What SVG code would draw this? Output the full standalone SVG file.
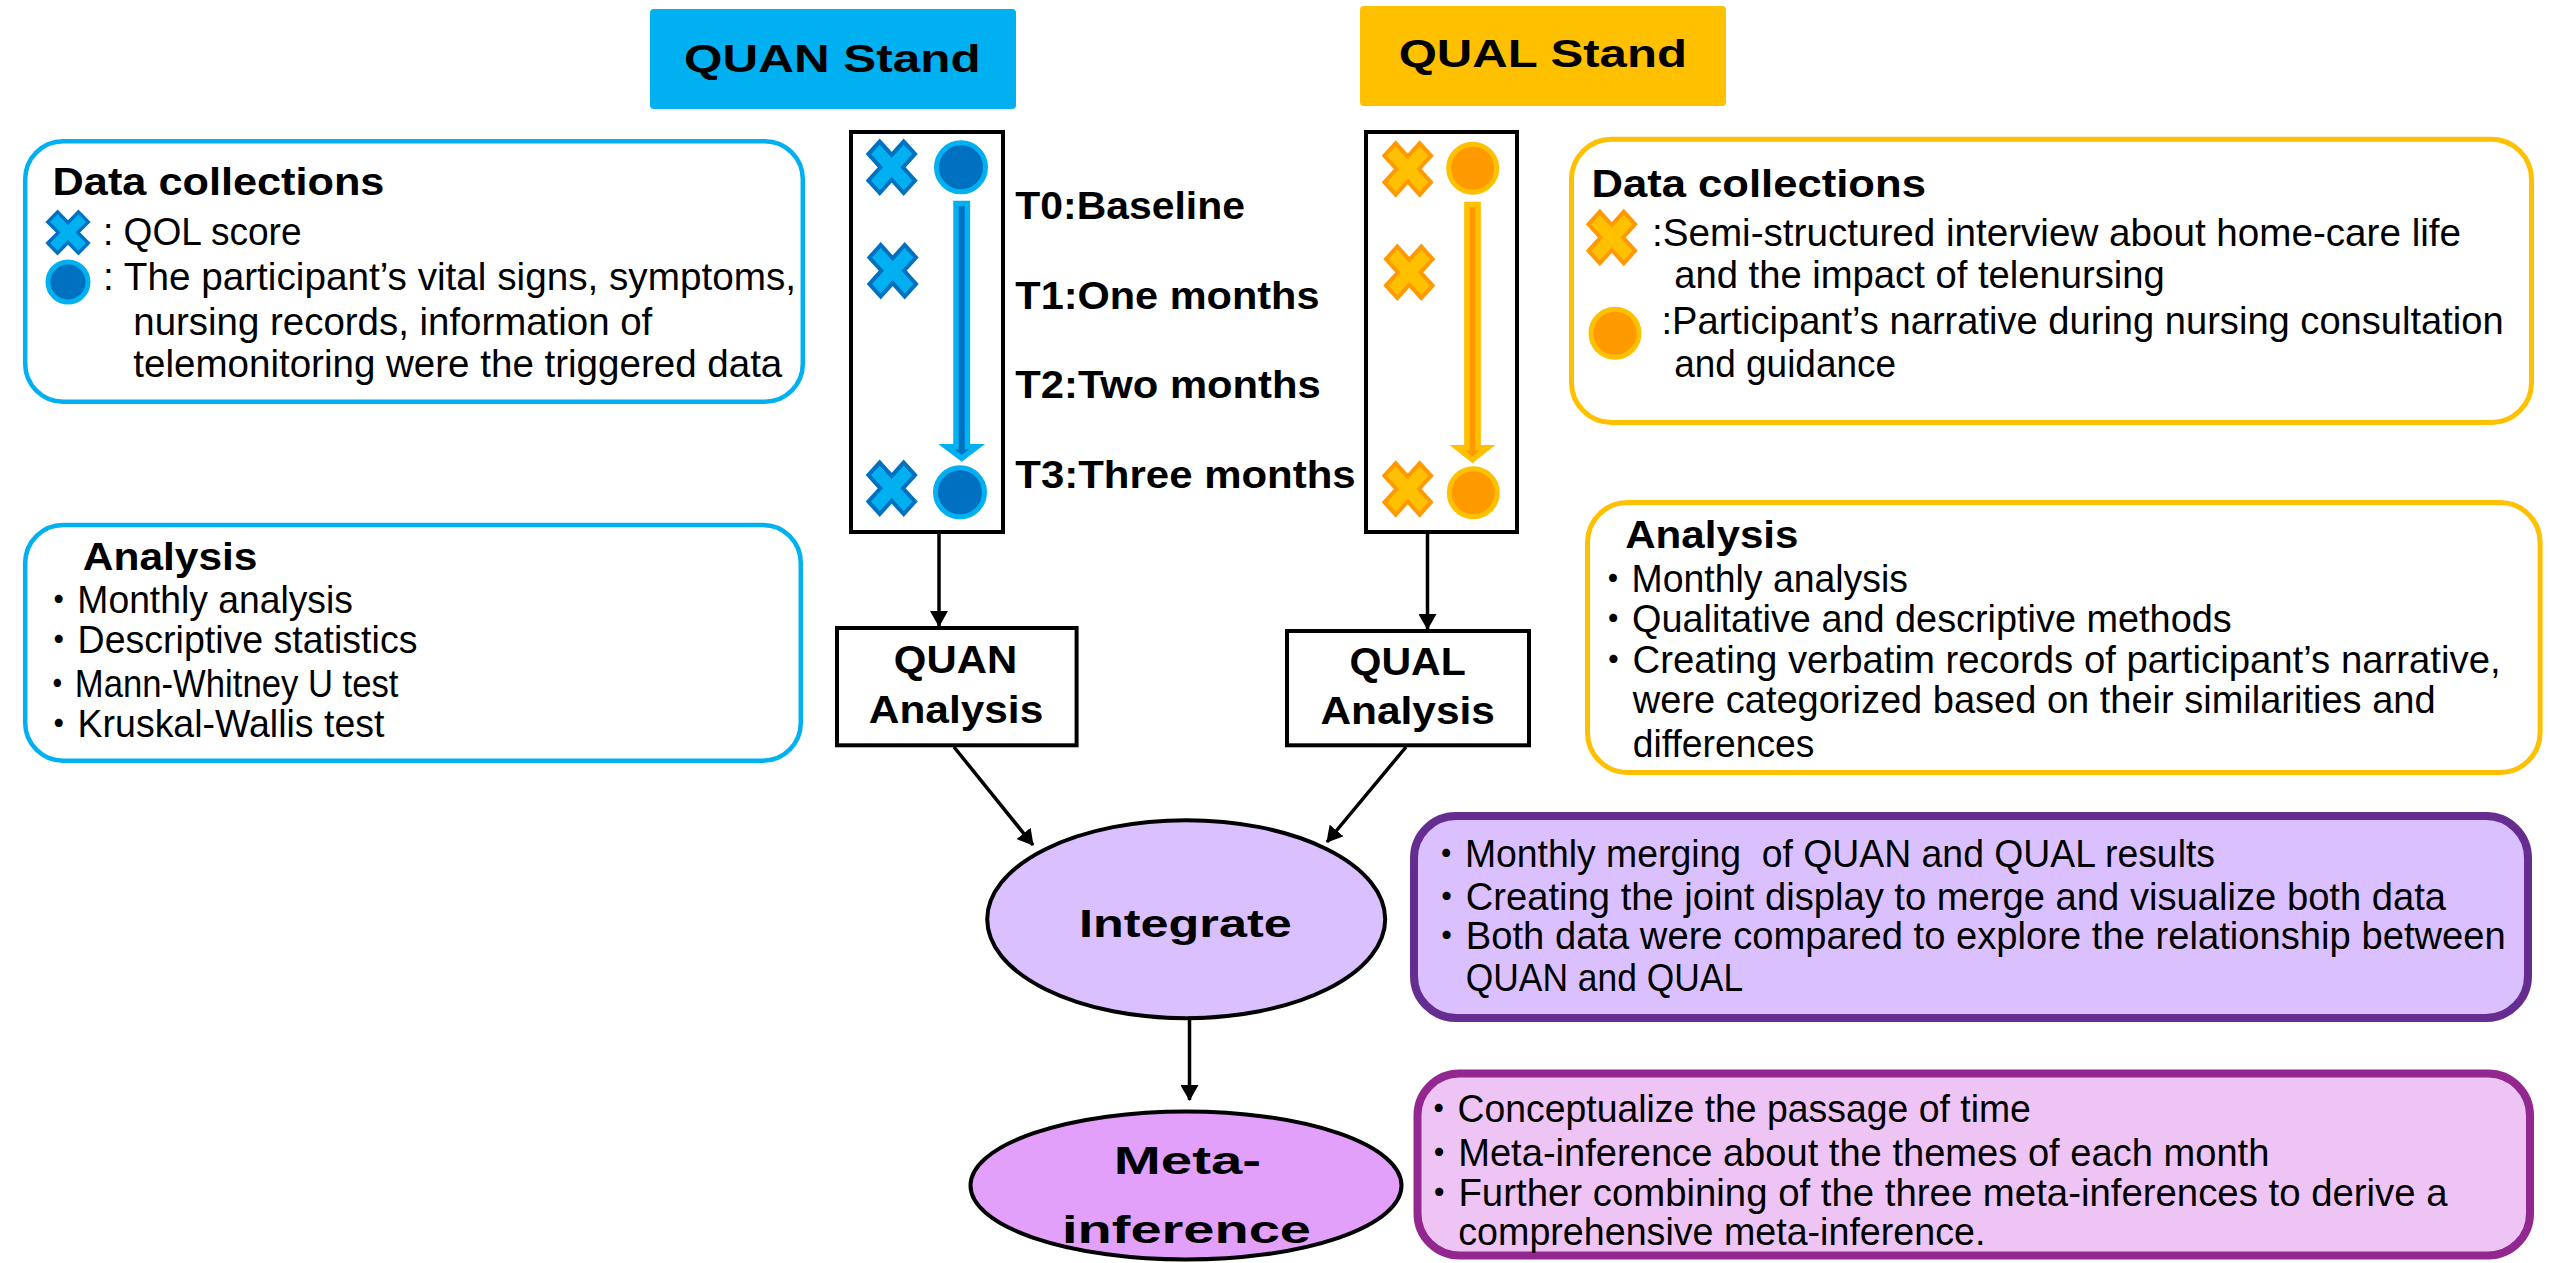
<svg xmlns="http://www.w3.org/2000/svg" xmlns:xlink="http://www.w3.org/1999/xlink" width="2549" height="1263" viewBox="0 0 2549 1263">
<style>
.t{font-family:"Liberation Sans","Noto Sans CJK JP",sans-serif;font-size:39px;fill:#000}
.b{font-weight:bold}
.bq{fill:#fff;stroke:#00B0F0;stroke-width:4.5}
.bo{fill:#fff;stroke:#FFC000;stroke-width:5}
.tl{fill:#fff;stroke:#000;stroke-width:4}
.xb{fill:#00B0F0;stroke:#0070C0;stroke-width:4;stroke-linejoin:miter}
.xo{fill:#FFC000;stroke:#FF9900;stroke-width:4;stroke-linejoin:miter}
.cb{fill:#0070C0;stroke:#00B0F0;stroke-width:5}
.co{fill:#FF9900;stroke:#FFC000;stroke-width:5}
.conn{stroke:#000;stroke-width:3.5;fill:none;marker-end:url(#ah)}
</style>
<defs>
<marker id="ah" markerUnits="userSpaceOnUse" viewBox="0 0 16 18" markerWidth="16" markerHeight="18" refX="15" refY="9" orient="auto">
<path d="M0,0 L16,9 L0,18 Z" fill="#000"/>
</marker>
<path id="xshape" d="M-12,25.7 L-23.3,13.2 L-11.3,0 L-23.3,-13.2 L-12,-25.7 L0,-12.4 L12,-25.7 L23.3,-13.2 L11.3,0 L23.3,13.2 L12,25.7 L0,12.4 Z"/>
</defs>

<g id="quan-stand">
<rect x="650" y="9" width="366" height="100" rx="4" fill="#00B0F0"/>
<text class="t b" x="684" y="72" font-size="52" textLength="296.7" lengthAdjust="spacingAndGlyphs">QUAN Stand</text>
</g>

<g id="qual-stand">
<rect x="1360" y="6" width="366" height="100" rx="4" fill="#FFC000"/>
<text class="t b" x="1398.7" y="66.5" font-size="52" textLength="288.2" lengthAdjust="spacingAndGlyphs">QUAL Stand</text>
</g>

<g id="quan-data-collections">
<rect class="bq" x="25.2" y="141.2" width="777.6" height="260.6" rx="38"/>
<text class="t b" x="52.6" y="195" font-size="42" textLength="331.8" lengthAdjust="spacingAndGlyphs">Data collections</text>
<use href="#xshape" class="xb" transform="translate(68,232.5) scale(0.87,0.8)"/>
<text class="t" x="103" y="245" textLength="198.6" lengthAdjust="spacingAndGlyphs">: QOL score</text>
<circle class="cb" cx="68" cy="282" r="20"/>
<text class="t" x="103" y="290" textLength="693" lengthAdjust="spacingAndGlyphs">: The participant’s vital signs, symptoms,</text>
<text class="t" x="133.3" y="334.5" textLength="519" lengthAdjust="spacingAndGlyphs">nursing records, information of</text>
<text class="t" x="133.3" y="376.5" textLength="649" lengthAdjust="spacingAndGlyphs">telemonitoring were the triggered data</text>
</g>

<g id="quan-analysis-notes">
<rect class="bq" x="25.2" y="525" width="775.6" height="235.8" rx="38"/>
<text class="t b" x="82.8" y="570" font-size="42" textLength="174.7" lengthAdjust="spacingAndGlyphs">Analysis</text>
<text class="t" x="40.1" y="613.3" textLength="312.8" lengthAdjust="spacingAndGlyphs">・Monthly analysis</text>
<text class="t" x="40.1" y="653.3" textLength="377.3" lengthAdjust="spacingAndGlyphs">・Descriptive statistics</text>
<text class="t" x="40.1" y="696.7" font-size="37" textLength="358.4" lengthAdjust="spacingAndGlyphs">・Mann-Whitney U test</text>
<text class="t" x="40.1" y="736.7" textLength="344.3" lengthAdjust="spacingAndGlyphs">・Kruskal-Wallis test</text>
</g>

<g id="quan-timeline">
<rect class="tl" x="851" y="132" width="152" height="400"/>
<use href="#xshape" class="xb" transform="translate(891.7,167.3)"/>
<circle class="cb" cx="961" cy="167.3" r="24.5"/>
<use href="#xshape" class="xb" transform="translate(892.7,270.7)"/>
<path d="M956,203.5 L967.4,203.5 L967.4,446.7 L977,446.7 L961.7,458.3 L946.4,446.7 L956,446.7 Z" fill="#0070C0" stroke="#00B0F0" stroke-width="5.5"/>
<use href="#xshape" class="xb" transform="translate(891.7,488.3)"/>
<circle class="cb" cx="960" cy="492.3" r="24.5"/>
</g>

<g id="timepoints">
<text class="t b" x="1015.3" y="218.6" font-size="39" textLength="229.6" lengthAdjust="spacingAndGlyphs">T0:Baseline</text>
<text class="t b" x="1015.3" y="309" font-size="39" textLength="304.2" lengthAdjust="spacingAndGlyphs">T1:One months</text>
<text class="t b" x="1015.3" y="398.2" font-size="39" textLength="305.4" lengthAdjust="spacingAndGlyphs">T2:Two months</text>
<text class="t b" x="1015.3" y="488.2" font-size="39" textLength="340.4" lengthAdjust="spacingAndGlyphs">T3:Three months</text>
</g>

<g id="qual-timeline">
<rect class="tl" x="1366" y="132" width="151" height="400"/>
<use href="#xshape" class="xo" transform="translate(1407.7,169)"/>
<circle class="co" cx="1472.7" cy="168.3" r="24"/>
<use href="#xshape" class="xo" transform="translate(1409.3,272.3)"/>
<path d="M1466.9,204.5 L1478.1,204.5 L1478.1,447.7 L1487.7,447.7 L1472.5,459.8 L1457.3,447.7 L1466.9,447.7 Z" fill="#FF9900" stroke="#FFC000" stroke-width="5.5"/>
<use href="#xshape" class="xo" transform="translate(1407.7,489)"/>
<circle class="co" cx="1473.3" cy="492.7" r="24"/>
</g>

<g id="qual-data-collections">
<rect class="bo" x="1571.5" y="139.2" width="960" height="283.3" rx="40"/>
<text class="t b" x="1591.4" y="197.3" font-size="42" textLength="334.5" lengthAdjust="spacingAndGlyphs">Data collections</text>
<use href="#xshape" class="xo" transform="translate(1611.8,237.5)"/>
<text class="t" x="1652" y="246" textLength="809" lengthAdjust="spacingAndGlyphs">:Semi-structured interview about home-care life</text>
<text class="t" x="1674.2" y="288" textLength="490.6" lengthAdjust="spacingAndGlyphs">and the impact of telenursing</text>
<circle class="co" cx="1615" cy="333.3" r="24"/>
<text class="t" x="1661.5" y="333.5" textLength="842.2" lengthAdjust="spacingAndGlyphs">:Participant’s narrative during nursing consultation</text>
<text class="t" x="1674.2" y="377.3" textLength="221.8" lengthAdjust="spacingAndGlyphs">and guidance</text>
</g>

<g id="qual-analysis-notes">
<rect class="bo" x="1587.5" y="502.5" width="952.6" height="270" rx="40"/>
<text class="t b" x="1625.2" y="548.3" font-size="42" textLength="173.3" lengthAdjust="spacingAndGlyphs">Analysis</text>
<text class="t" x="1594.2" y="591.7" textLength="313.8" lengthAdjust="spacingAndGlyphs">・Monthly analysis</text>
<text class="t" x="1594.2" y="631.7" textLength="637.5" lengthAdjust="spacingAndGlyphs">・Qualitative and descriptive methods</text>
<text class="t" x="1594.2" y="673.3" textLength="906.4" lengthAdjust="spacingAndGlyphs">・Creating verbatim records of participant’s narrative,</text>
<text class="t" x="1632.8" y="713.3" textLength="802.8" lengthAdjust="spacingAndGlyphs">were categorized based on their similarities and</text>
<text class="t" x="1632.8" y="756.7" textLength="181.6" lengthAdjust="spacingAndGlyphs">differences</text>
</g>

<g id="quan-analysis">
<rect class="tl" x="837" y="628" width="239.6" height="117.3" stroke-width="4.5"/>
<text class="t b" x="955.5" y="673" font-size="45" text-anchor="middle" textLength="123.4" lengthAdjust="spacingAndGlyphs">QUAN</text>
<text class="t b" x="956" y="723" font-size="45" text-anchor="middle" textLength="174.5" lengthAdjust="spacingAndGlyphs">Analysis</text>
</g>

<g id="qual-analysis">
<rect class="tl" x="1287" y="631" width="242" height="114.3" stroke-width="4.5"/>
<text class="t b" x="1407.7" y="675.3" font-size="45" text-anchor="middle" textLength="116.3" lengthAdjust="spacingAndGlyphs">QUAL</text>
<text class="t b" x="1407.7" y="724.3" font-size="45" text-anchor="middle" textLength="174.5" lengthAdjust="spacingAndGlyphs">Analysis</text>
</g>

<g id="integrate">
<ellipse cx="1186.2" cy="919.2" rx="199" ry="99" fill="#DAC0FF" stroke="#000" stroke-width="4"/>
<text class="t b" x="1079" y="937" font-size="52" textLength="212.7" lengthAdjust="spacingAndGlyphs">Integrate</text>
</g>

<g id="integrate-notes">
<rect x="1414" y="816" width="1114" height="202" rx="42" fill="#DAC0FF" stroke="#662D91" stroke-width="8"/>
<text class="t" xml:space="preserve" x="1427.6" y="866.7" textLength="787.4" lengthAdjust="spacingAndGlyphs">・Monthly merging  of QUAN and QUAL results</text>
<text class="t" x="1427.6" y="909.8" textLength="1018.5" lengthAdjust="spacingAndGlyphs">・Creating the joint display to merge and visualize both data</text>
<text class="t" x="1427.6" y="948.8" textLength="1078.2" lengthAdjust="spacingAndGlyphs">・Both data were compared to explore the relationship between</text>
<text class="t" x="1465.7" y="990.5" textLength="277.4" lengthAdjust="spacingAndGlyphs">QUAN and QUAL</text>
</g>

<g id="meta-inference">
<ellipse cx="1186" cy="1185.5" rx="215.5" ry="74" fill="#E2A0FA" stroke="#000" stroke-width="4"/>
<text class="t b" x="1187.5" y="1174" font-size="59" text-anchor="middle" textLength="147.3" lengthAdjust="spacingAndGlyphs">Meta-</text>
<text class="t b" x="1186.5" y="1242.7" font-size="59" text-anchor="middle" textLength="249" lengthAdjust="spacingAndGlyphs">inference</text>
</g>

<g id="meta-notes">
<rect x="1417.5" y="1073.5" width="1112.5" height="182" rx="42" fill="#EEC4F4" stroke="#92278F" stroke-width="8"/>
<text class="t" x="1420.1" y="1121.7" textLength="610.8" lengthAdjust="spacingAndGlyphs">・Conceptualize the passage of time</text>
<text class="t" x="1420.1" y="1166.3" textLength="849.3" lengthAdjust="spacingAndGlyphs">・Meta-inference about the themes of each month</text>
<text class="t" x="1420.1" y="1205.5" textLength="1027.5" lengthAdjust="spacingAndGlyphs">・Further combining of the three meta-inferences to derive a</text>
<text class="t" x="1458.3" y="1245" textLength="527.1" lengthAdjust="spacingAndGlyphs">comprehensive meta-inference.</text>
</g>

<g id="connectors">
<path class="conn" d="M939,534 L939,626"/>
<path class="conn" d="M1427.5,534 L1427.5,629"/>
<path class="conn" d="M954,747 L1033,845"/>
<path class="conn" d="M1406,747 L1327,842"/>
<path class="conn" d="M1189.5,1020 L1189.5,1100"/>
</g>
</svg>
